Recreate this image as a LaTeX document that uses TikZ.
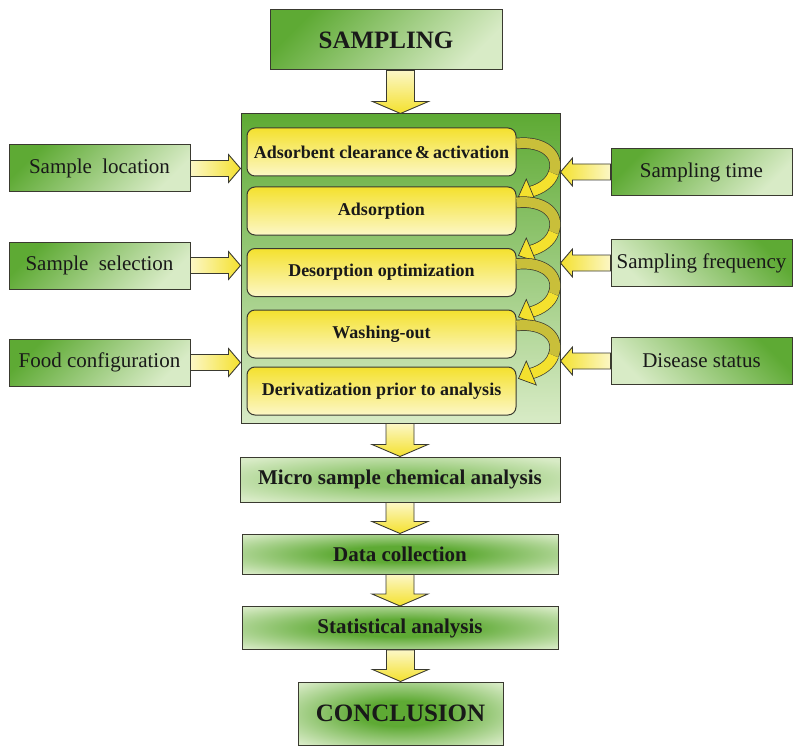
\documentclass[tikz,border=0pt]{standalone}
\usepackage{fontspec}
\setmainfont{Liberation Serif}
\usetikzlibrary{calc}
\definecolor{dg}{HTML}{5EAA34}
\definecolor{lg}{HTML}{D8EBC6}
\definecolor{mg}{HTML}{8CC46A}
\definecolor{yl}{HTML}{F4E12E}
\definecolor{pyl}{HTML}{FCF7C6}
\definecolor{ol}{HTML}{C9BF3A}
\definecolor{edge}{HTML}{3A3A30}
\pgfdeclareradialshading{greenglow}{\pgfpoint{0bp}{0bp}}{color(0bp)=(dg); color(10bp)=(dg); color(34bp)=(lg); color(50bp)=(lg)}
\pgfdeclareradialshading{paleglow}{\pgfpoint{0bp}{0bp}}{color(0bp)=(mg); color(8bp)=(mg); color(32bp)=(lg); color(50bp)=(lg)}
\tikzset{
  gbox/.style={draw=edge, line width=1pt, inner sep=0pt, text=black!90},
  sidebox/.style={gbox, minimum width=181pt, minimum height=47pt, font=\fontsize{21}{25}\selectfont},
  ybox/.style={gbox, rounded corners=8pt, top color=yl, bottom color=pyl, minimum width=269pt, minimum height=48pt, font=\fontsize{18}{22}\selectfont\bfseries},
  rbox/.style={gbox, shading=greenglow, font=\fontsize{21}{25}\selectfont\bfseries},
  barrow/.style={draw=edge, line width=0.9pt},
  ribbon/.style={draw=edge, line width=0.7pt, double distance=10pt}
}
\newcommand\varr[2]{%
  \path[barrow, top color=pyl, bottom color=yl] let \p1=(#1.south), \p2=(#2.north) in
    (\x2-14pt,\y1) -- (\x2+14pt,\y1) -- (\x2+14pt,\y2+12pt) -- (\x2+28pt,\y2+12pt) -- (\x2,\y2)
    -- (\x2-28pt,\y2+12pt) -- (\x2-14pt,\y2+12pt) -- cycle;}
\newcommand\harrL[2]{%
  \path[barrow, left color=pyl, right color=yl] let \p1=(#1.east), \p2=(#2.west) in
    (\x1,\y1-8pt) -- (\x2-12pt,\y1-8pt) -- (\x2-12pt,\y1-14pt) -- (\x2,\y1)
    -- (\x2-12pt,\y1+14pt) -- (\x2-12pt,\y1+8pt) -- (\x1,\y1+8pt) -- cycle;}
\newcommand\harrR[2]{%
  \path[barrow, left color=yl, right color=pyl] let \p1=(#1.west), \p2=(#2.east) in
    (\x1,\y1-8pt) -- (\x2+12pt,\y1-8pt) -- (\x2+12pt,\y1-14pt) -- (\x2,\y1)
    -- (\x2+12pt,\y1+14pt) -- (\x2+12pt,\y1+8pt) -- (\x1,\y1+8pt) -- cycle;}
\newcommand\curl[1]{%
  \begin{scope}[shift={(#1.north east)}]
    \draw[ribbon, double=ol] (0,16) .. controls (28,13) and (44,28) .. (37,46);
    \draw[ribbon, double=yl] (37,46) .. controls (34,55) and (25,61) .. (15,64);
    \filldraw[draw=edge, line width=0.7pt, fill=yl] (9.8,51.5) -- (2,69) -- (19.8,75.5) -- cycle;
  \end{scope}}
\begin{document}
\begin{tikzpicture}[x=1pt,y=-1pt]
\useasboundingbox (0,0) rectangle (800,754);
% top
\node[gbox, minimum width=232pt, minimum height=60pt, top color=dg, bottom color=lg, shading angle=45,
      font=\fontsize{25}{30}\selectfont\bfseries] (samp) at (386,40) {SAMPLING};
% panel
\node[gbox, minimum width=319pt, minimum height=309pt, top color=dg, bottom color=lg] (panel) at (400.5,268.5) {};
% inner steps
\node[ybox] (s1) at (381.5,152) {Adsorbent clearance\,\&\,activation};
\node[ybox] (s2) at (381.5,211) {Adsorption};
\node[ybox] (s3) at (381.5,272.5) {Desorption optimization};
\node[ybox] (s4) at (381.5,334) {Washing-out};
\node[ybox] (s5) at (381.5,391) {Derivatization prior to analysis};
\curl{s1}\curl{s2}\curl{s3}\curl{s4}
% left boxes
\node[sidebox, top color=dg, bottom color=lg, shading angle=45] (l1) at (99.5,168.5) {Sample\hspace{5pt} location};
\node[sidebox, top color=dg, bottom color=lg, shading angle=45] (l2) at (99.5,265.5) {Sample\hspace{5pt} selection};
\node[sidebox, top color=dg, bottom color=lg, shading angle=45] (l3) at (99.5,362.5) {Food configuration};
% right boxes
\node[sidebox, top color=dg, bottom color=lg, shading angle=45] (r1) at (701.5,172) {Sampling time};
\node[sidebox, top color=dg, bottom color=lg, shading angle=-45] (r2) at (701.5,263) {Sampling frequency};
\node[sidebox, top color=dg, bottom color=lg, shading angle=-45] (r3) at (701.5,361) {Disease status};
% bottom chain
\node[rbox, shading=paleglow, minimum width=320pt, minimum height=45pt] (micro) at (400,479.5) {Micro sample chemical analysis};
\node[rbox, minimum width=316pt, minimum height=40pt] (data) at (400,554) {Data collection};
\node[rbox, minimum width=316pt, minimum height=43pt] (stat) at (400,628) {Statistical analysis};
\node[rbox, minimum width=205pt, minimum height=63pt, font=\fontsize{25}{30}\selectfont\bfseries] (concl) at (400.5,713.5) {CONCLUSION};
% arrows
\varr{samp}{panel}
\varr{panel}{micro}
\varr{micro}{data}
\varr{data}{stat}
\varr{stat}{concl}
\harrL{l1}{panel}\harrL{l2}{panel}\harrL{l3}{panel}
\harrR{r1}{panel}\harrR{r2}{panel}\harrR{r3}{panel}
\end{tikzpicture}
\end{document}
